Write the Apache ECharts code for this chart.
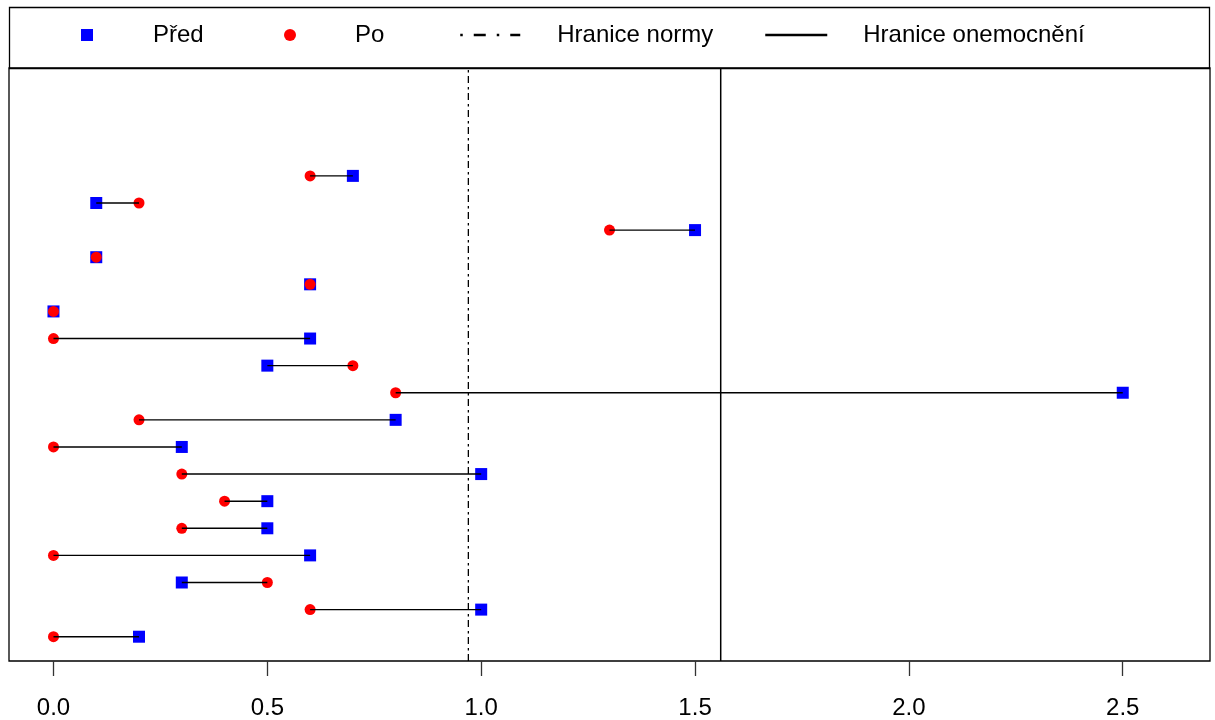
<!DOCTYPE html>
<html>
<head>
<meta charset="utf-8">
<title>Před / Po</title>
<script src="https://cdn.jsdelivr.net/npm/echarts@6/dist/echarts.min.js"></script>
<style>
  html, body { margin: 0; padding: 0; background: #fff; }
  #chart { width: 1215px; height: 720px; }
</style>
</head>
<body>
<div id="chart"></div>
<script>
// Row positions, bottom to top
const rows = [1, 2, 3, 4, 5, 6, 7, 8, 9, 10, 11, 12, 13, 14, 15, 16, 17, 18];
// Values before ("Před") and after ("Po"), one per row
const pred = [0.2, 1.0, 0.3, 0.6, 0.5, 0.5, 1.0, 0.3, 0.8, 2.5, 0.5, 0.6, 0.0, 0.6, 0.1, 1.5, 0.1, 0.7];
const po   = [0.0, 0.6, 0.5, 0.0, 0.3, 0.4, 0.3, 0.0, 0.2, 0.8, 0.7, 0.0, 0.0, 0.6, 0.1, 1.3, 0.2, 0.6];
// Reference limits
const normLimit = 0.97;
const diseaseLimit = 1.56;
// Axis ticks
const xTicks = [0, 0.5, 1.0, 1.5, 2.0, 2.5];
const xRange = [-0.104, 2.704];
const yRange = [0.104, 21.98];

const FONT = "'Liberation Sans', Arial, sans-serif";

const chart = echarts.init(document.getElementById('chart'), null, { renderer: 'canvas' });

const legendBase = {
  top: 23,
  padding: 0,
  itemHeight: 12,
  selectedMode: false,
  textStyle: { fontFamily: FONT, fontSize: 24, color: '#000' }
};

function legendText(padLeft) {
  return { fontFamily: FONT, fontSize: 24, color: '#000', padding: [0, 0, 0, padLeft] };
}

const option = {
  animation: false,
  backgroundColor: '#fff',
  textStyle: { fontFamily: FONT },
  graphic: [{
    type: 'rect',
    shape: { x: 9.5, y: 7.5, width: 1200, height: 61 },
    style: { fill: 'none', stroke: '#000', lineWidth: 1.3 },
    silent: true
  }],
  legend: [
    Object.assign({}, legendBase, {
      left: 81, itemWidth: 12, data: [{ name: 'Před', icon: 'rect' }],
      textStyle: legendText(55)
    }),
    Object.assign({}, legendBase, {
      left: 284, itemWidth: 12, data: [{ name: 'Po', icon: 'circle' }],
      textStyle: legendText(54)
    }),
    Object.assign({}, legendBase, {
      left: 459, itemWidth: 60, data: ['Hranice normy'],
      textStyle: legendText(32),
      itemStyle: { opacity: 0, color: 'transparent', borderWidth: 0 },
      lineStyle: { width: 2.5, type: [2.5, 11, 12, 11], color: '#000' }
    }),
    Object.assign({}, legendBase, {
      left: 764, itemWidth: 62, data: ['Hranice onemocnění'],
      textStyle: legendText(31),
      itemStyle: { opacity: 0, color: 'transparent', borderWidth: 0 },
      lineStyle: { width: 2.5, type: 'solid', color: '#000' }
    })
  ],
  grid: {
    left: 9, right: 5, top: 68, bottom: 59,
    show: true, borderColor: '#000', borderWidth: 1.3, backgroundColor: 'transparent'
  },
  xAxis: {
    type: 'value',
    min: xRange[0],
    max: xRange[1],
    axisLine: { show: false },
    splitLine: { show: false },
    axisTick: {
      show: true, customValues: xTicks, length: 15, inside: false,
      lineStyle: { color: '#333', width: 1.3 }
    },
    axisLabel: {
      customValues: xTicks,
      formatter: v => v.toFixed(1),
      fontFamily: FONT, fontSize: 24, color: '#000', margin: 35
    }
  },
  yAxis: {
    type: 'value',
    min: yRange[0],
    max: yRange[1],
    show: false,
    splitLine: { show: false }
  },
  series: [
    {
      name: 'Hranice normy',
      type: 'line',
      symbol: 'none',
      silent: true,
      itemStyle: { color: '#000' },
      lineStyle: { color: '#000', width: 1.3, type: [7, 3.5, 2.5, 4] },
      data: [[normLimit, yRange[0]], [normLimit, yRange[1]]],
      z: 1
    },
    {
      name: 'Hranice onemocnění',
      type: 'line',
      symbol: 'none',
      silent: true,
      itemStyle: { color: '#000' },
      lineStyle: { color: '#000', width: 1.5, type: 'solid' },
      data: [[diseaseLimit, yRange[0]], [diseaseLimit, yRange[1]]],
      z: 1
    },
    {
      name: 'Před',
      type: 'scatter',
      symbol: 'rect',
      symbolSize: 12,
      itemStyle: { color: '#0000ff', opacity: 1 },
      data: rows.map((r, i) => [pred[i], r]),
      z: 3
    },
    {
      name: 'Po',
      type: 'scatter',
      symbol: 'circle',
      symbolSize: 11,
      itemStyle: { color: '#ff0000', opacity: 1 },
      data: rows.map((r, i) => [po[i], r]),
      z: 4
    },
    {
      name: 'spojnice',
      type: 'custom',
      silent: true,
      z: 5,
      data: rows.map((r, i) => [pred[i], po[i], r]),
      renderItem: function (params, api) {
        const a = api.coord([api.value(0), api.value(2)]);
        const b = api.coord([api.value(1), api.value(2)]);
        return {
          type: 'line',
          shape: { x1: a[0], y1: a[1], x2: b[0], y2: b[1] },
          style: { stroke: '#000', lineWidth: 1.4 }
        };
      }
    }
  ]
};

chart.setOption(option);
</script>
</body>
</html>
